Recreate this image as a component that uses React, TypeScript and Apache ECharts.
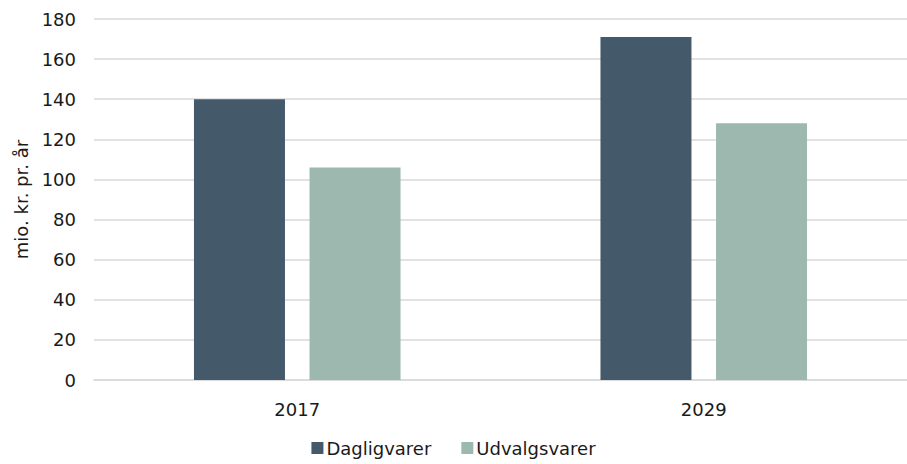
import React, { useEffect, useRef } from "react";
import * as echarts from "echarts";

const categories = ["2017", "2029"];
const dagligvarer = [140, 171];
const udvalgsvarer = [106, 128];
const yTicks = { min: 0, max: 180, interval: 20 };
const FONT = "DejaVu Sans";

export default function App() {
  const ref = useRef<HTMLDivElement>(null);
  useEffect(() => {
    const chart = echarts.init(ref.current!, null, { renderer: "svg" });
    chart.setOption({
      animation: false,
      textStyle: { fontFamily: FONT, fontSize: 18, color: "#1a1a1a" },
      grid: { left: 94, right: 0, top: 19, bottom: 84, containLabel: false },
      legend: {
        bottom: 2,
        left: "center",
        itemWidth: 12,
        itemHeight: 12,
        itemGap: 30,
        icon: "rect",
        textStyle: { fontFamily: FONT, fontSize: 18, color: "#1a1a1a", padding: [0, 0, 0, -2] },
        data: ["Dagligvarer", "Udvalgsvarer"],
      },
      xAxis: {
        type: "category",
        data: categories,
        axisLine: { lineStyle: { color: "#d9d9d9", width: 1.5 } },
        axisTick: { show: false },
        axisLabel: { fontFamily: FONT, fontSize: 18, color: "#1a1a1a", margin: 20 },
      },
      yAxis: {
        type: "value",
        min: yTicks.min,
        max: yTicks.max,
        interval: yTicks.interval,
        name: "mio. kr. pr. år",
        nameLocation: "middle",
        nameGap: 64,
        nameTextStyle: { fontFamily: FONT, fontSize: 18, color: "#1a1a1a" },
        axisLine: { show: false },
        axisTick: { show: false },
        axisLabel: { fontFamily: FONT, fontSize: 18, color: "#1a1a1a", margin: 18 },
        splitLine: { lineStyle: { color: "#d9d9d9", width: 1.5 } },
      },
      series: [
        {
          name: "Dagligvarer",
          type: "bar",
          data: dagligvarer,
          barWidth: 91,
          barGap: "27%",
          itemStyle: { color: "#44596a" },
        },
        {
          name: "Udvalgsvarer",
          type: "bar",
          data: udvalgsvarer,
          barWidth: 91,
          barGap: "27%",
          itemStyle: { color: "#9db8ae" },
        },
      ],
    });
    return () => chart.dispose();
  }, []);
  return <div ref={ref} style={{ width: 907, height: 464, position: "absolute", left: 0, top: 0 }} />;
}
